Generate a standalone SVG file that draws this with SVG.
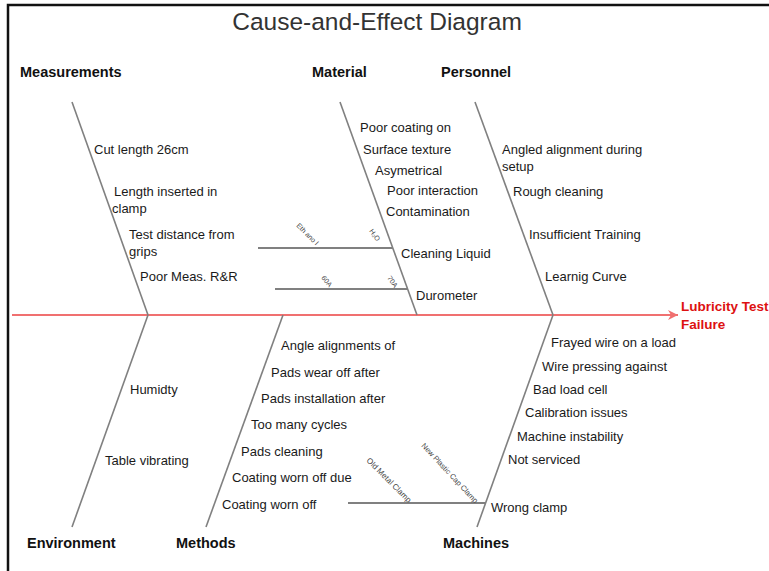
<svg xmlns="http://www.w3.org/2000/svg" width="769" height="571" viewBox="0 0 769 571">
<style>
.t{font-family:"Liberation Sans",Arial,sans-serif;font-size:13px;fill:#1a1a1a}
.c{font-family:"Liberation Sans",Arial,sans-serif;font-size:14.5px;font-weight:bold;fill:#111}
.s{font-family:"Liberation Sans",Arial,sans-serif;font-size:7px;fill:#444}
.bone{stroke:#808080;stroke-width:1.6;fill:none}
.sub{stroke:#808080;stroke-width:2;fill:none}
</style>
<defs>
<marker id="ar" markerWidth="12" markerHeight="10" refX="10" refY="5" orient="auto" markerUnits="userSpaceOnUse">
<path d="M0,0 L10,5 L0,10 L3,5 Z" fill="#f07070"/>
</marker>
</defs>
<rect width="769" height="571" fill="#fff"/>
<path d="M8,571 V5 H769" stroke="#111" stroke-width="2.5" fill="none"/>
<text x="377" y="30" text-anchor="middle" style="font-family:'Liberation Sans',Arial,sans-serif;font-size:24.5px;fill:#333">Cause-and-Effect Diagram</text>

<g id="connectors">
<line x1="12" y1="315" x2="678" y2="315" stroke="#f07070" stroke-width="2" marker-end="url(#ar)"/>
<line class="bone" x1="72" y1="102" x2="148" y2="315"/>
<line class="bone" x1="340" y1="102" x2="417" y2="315"/>
<line class="bone" x1="475" y1="102" x2="553" y2="315"/>
<line class="bone" x1="148" y1="315" x2="72" y2="527"/>
<line class="bone" x1="283" y1="315" x2="206" y2="527"/>
<line class="bone" x1="553" y1="315" x2="477" y2="527"/>
<line class="sub" x1="258" y1="248" x2="393" y2="248"/>
<line class="sub" x1="275" y1="289" x2="408" y2="289"/>
<line class="sub" x1="348" y1="503" x2="486" y2="503"/>
</g>

<g id="effect">
<text x="681" y="311" style="font-family:'Liberation Sans',Arial,sans-serif;font-size:13.5px;font-weight:bold;fill:#dd1111">Lubricity Test</text>
<text x="681" y="329" style="font-family:'Liberation Sans',Arial,sans-serif;font-size:13.5px;font-weight:bold;fill:#dd1111">Failure</text>
</g>

<g id="measurements">
<text class="c" x="20" y="77">Measurements</text>
<text class="t" x="94" y="154">Cut length 26cm</text>
<text class="t" x="114" y="196">Length inserted in</text>
<text class="t" x="112" y="213">clamp</text>
<text class="t" x="129" y="239">Test distance from</text>
<text class="t" x="129" y="256">grips</text>
<text class="t" x="140" y="281">Poor Meas. R&amp;R</text>
</g>

<g id="material">
<text class="c" x="312" y="77">Material</text>
<text class="t" x="360" y="132">Poor coating on</text>
<text class="t" x="363" y="154">Surface texture</text>
<text class="t" x="375" y="175">Asymetrical</text>
<text class="t" x="387" y="195">Poor interaction</text>
<text class="t" x="386" y="216">Contamination</text>
<text class="t" x="401" y="258">Cleaning Liquid</text>
<text class="t" x="416" y="300">Durometer</text>
<text class="s" transform="translate(296,226) rotate(45)">Eth ano l</text>
<text class="s" transform="translate(369,231) rotate(55)">H₂O</text>
<text class="s" transform="translate(321,278) rotate(50)">60A</text>
<text class="s" transform="translate(387,278) rotate(55)">70A</text>
</g>

<g id="personnel">
<text class="c" x="441" y="77">Personnel</text>
<text class="t" x="502" y="154">Angled alignment during</text>
<text class="t" x="502" y="171">setup</text>
<text class="t" x="513" y="196">Rough cleaning</text>
<text class="t" x="529" y="239">Insufficient Training</text>
<text class="t" x="545" y="281">Learnig Curve</text>
</g>

<g id="environment">
<text class="c" x="27" y="548">Environment</text>
<text class="t" x="130" y="394">Humidty</text>
<text class="t" x="105" y="465">Table vibrating</text>
</g>

<g id="methods">
<text class="c" x="176" y="548">Methods</text>
<text class="t" x="281" y="350">Angle alignments of</text>
<text class="t" x="271" y="377">Pads wear off after</text>
<text class="t" x="261" y="403">Pads installation after</text>
<text class="t" x="251" y="429">Too many cycles</text>
<text class="t" x="241" y="456">Pads cleaning</text>
<text class="t" x="232" y="482">Coating worn off due</text>
<text class="t" x="222" y="509">Coating worn off</text>
</g>

<g id="machines">
<text class="c" x="443" y="548">Machines</text>
<text class="t" x="551" y="347">Frayed wire on a load</text>
<text class="t" x="542" y="371">Wire pressing against</text>
<text class="t" x="533" y="394">Bad load cell</text>
<text class="t" x="525" y="417">Calibration issues</text>
<text class="t" x="517" y="441">Machine instability</text>
<text class="t" x="508" y="464">Not serviced</text>
<text class="t" x="491" y="512">Wrong clamp</text>
<text class="s" style="font-size:8px" transform="translate(366,461) rotate(45)">Old Metal Clamp</text>
<text class="s" style="font-size:7.5px" transform="translate(421,446) rotate(47)">New Plastic Cap Clamp</text>
</g>
</svg>
